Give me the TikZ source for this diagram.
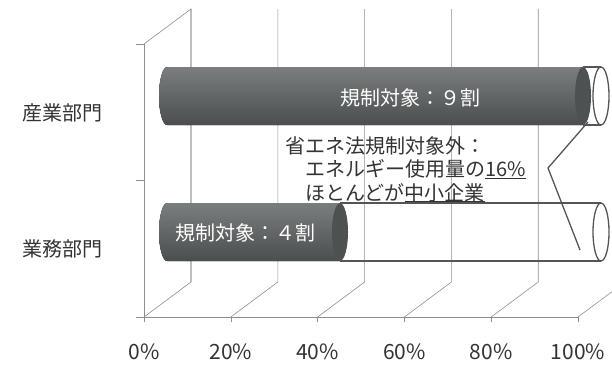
\documentclass[tikz,border=0pt]{standalone}
\usepackage{fontspec}
\newfontfamily\jpfont{Noto Sans CJK JP}
\usepackage{tikz}

\definecolor{gridgray}{HTML}{8E8E8E}
\definecolor{barlight}{HTML}{7A7E7E}
\definecolor{barmid}{HTML}{636767}
\definecolor{bardark}{HTML}{4A4E4E}
\definecolor{barend}{HTML}{4D5151}
\definecolor{tubeline}{HTML}{555555}
\definecolor{labeltext}{HTML}{333333}

\newcommand{\uline}[1]{\underline{\smash{#1}}}

\begin{document}
\begin{tikzpicture}[x=1pt, y=-1pt,
    grid/.style={gridgray, line width=0.6pt},
    tube/.style={tubeline, line width=1.3pt},
    darkbar/.style={top color=barlight, middle color=barmid, bottom color=bardark},
    lbl/.style={labeltext, inner sep=0pt, font=\jpfont\fontsize{20}{23.5}\selectfont},
    pctlbl/.style={labeltext, inner sep=0pt, font=\jpfont\fontsize{21}{24}\selectfont},
    barlbl/.style={white, inner sep=0pt, font=\jpfont\fontsize{20}{23.5}\selectfont}]
    \clip (0,0) rectangle (612,364);

    % Draw the left wall and the axes
    \draw[grid] (144,44) -- (191,9) -- (191,282);
    \draw[grid] (144,44) -- (144,317) -- (578,317);
    \foreach \y in {44,180.5,317}
        \draw[grid] (136,\y) -- (144,\y);

    % Draw the floor and the back grid
    \foreach \p [count=\k from 0] in {0,20,40,60,80,100} {
        \pgfmathsetmacro{\xx}{144+86.8*\k}
        \draw[grid] (\xx,317) -- (\xx+47,282) -- (\xx+47,9);
        \draw[grid] (\xx,317) -- (\xx,322);
        \node[pctlbl] (pct\k) at (\xx,352) {\p\%};
    }

    % Categories
    \node[lbl] (sangyo) at (62,113) {産業部門};
    \node[lbl] (gyomu) at (62,249) {業務部門};

    % Upper bar
    \fill[darkbar] (583,67) -- (167,67) arc[start angle=-90, end angle=-270, x radius=8, y radius=29] -- (583,125) -- cycle;
    \fill[barend] (583,96) ellipse[x radius=8, y radius=29];
    \draw[tube] (583,67) -- (601,67);
    \draw[tube] (583,125) -- (601,125);
    \draw[tube] (601,96) ellipse[x radius=8, y radius=29];
    \node[barlbl] (upper) at (410,98) {規制対象：９割};

    % Lower bar
    \fill[darkbar] (340,203) -- (167,203) arc[start angle=-90, end angle=-270, x radius=8, y radius=29] -- (340,261) -- cycle;
    \fill[barend] (340,232) ellipse[x radius=8, y radius=29];
    \draw[tube] (340,203) -- (601,203);
    \draw[tube] (340,261) -- (601,261);
    \draw[tube] (601,232) ellipse[x radius=8, y radius=29];
    \node[barlbl] (lower) at (245,233) {規制対象：４割};

    % Note on the part outside the law
    \node[lbl, anchor=north west, align=left] (note) at (285,136)
        {省エネ法規制対象外：\\
         　エネルギー使用量の\uline{16\%}\\
         　ほとんどが\uline{中小企業}};
    \coordinate (za) at (588,122);
    \coordinate (zb) at (548,168);
    \coordinate (zc) at (580,250);
    \draw[tube] (za) -- (zb) -- (zc);
\end{tikzpicture}
\end{document}
